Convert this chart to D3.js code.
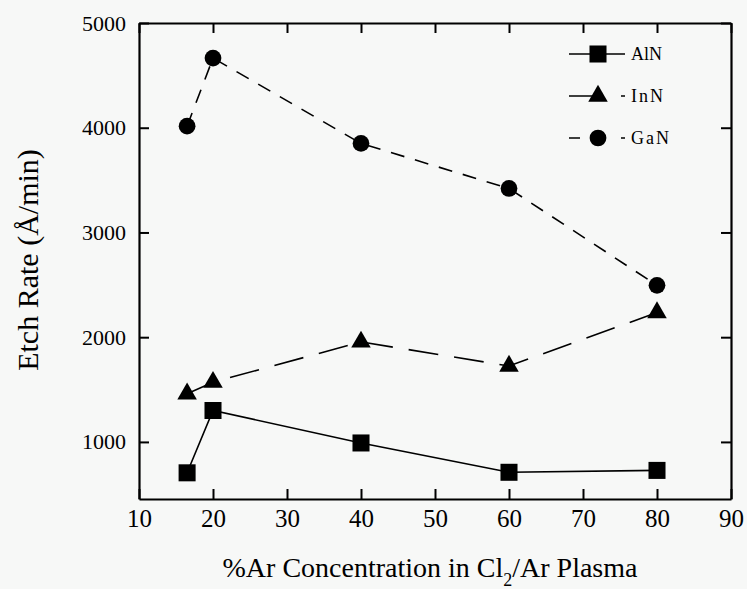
<!DOCTYPE html>
<html>
<head>
<meta charset="utf-8">
<script src="https://cdn.jsdelivr.net/npm/d3@7"></script>
<style>
  body { margin: 0; background: #f7f8f7; }
  svg { display: block; font-family: "Liberation Serif", "Times New Roman", serif; }
</style>
</head>
<body>
<div id="chart"></div>
<script>
// data
var arConc = [16.5, 20, 40, 60, 80];
var alnRate = [705, 1300, 990, 710, 728];
var innRate = [1460, 1570, 1955, 1725, 2235];
var ganRate = [4015, 4665, 3850, 3420, 2495];
var xTicks = [10, 20, 30, 40, 50, 60, 70, 80, 90];
var yTicks = [1000, 2000, 3000, 4000, 5000];

var svgWidth = 747, svgHeight = 589;
var margin = { top: 23, right: 16, bottom: 90, left: 139 };
var chartWidth = svgWidth - margin.left - margin.right;
var chartHeight = svgHeight - margin.top - margin.bottom;

var svg = d3.select("#chart").append("svg")
  .attr("width", svgWidth)
  .attr("height", svgHeight);

var chartGroup = svg.append("g")
  .attr("transform", `translate(${margin.left}, ${margin.top})`);

var xScale = d3.scaleLinear().domain([10, 90]).range([0, chartWidth]);
var yScale = d3.scaleLinear().domain([455, 5000]).range([chartHeight, 0]);

// axes, ticks pointing inward, mirrored on top/right
var tickLen = 10;
var bottomAxis = d3.axisBottom(xScale).tickValues(xTicks).tickFormat(d3.format("d"))
  .tickSizeInner(-tickLen).tickSizeOuter(0).tickPadding(10);
var leftAxis = d3.axisLeft(yScale).tickValues(yTicks).tickFormat(d3.format("d"))
  .tickSizeInner(-tickLen).tickSizeOuter(0).tickPadding(13);
var topAxis = d3.axisTop(xScale).tickValues(xTicks).tickSizeInner(-tickLen).tickSizeOuter(0).tickFormat("");
var rightAxis = d3.axisRight(yScale).tickValues(yTicks).tickSizeInner(-tickLen).tickSizeOuter(0).tickFormat("");

var xAxisG = chartGroup.append("g").attr("class", "axis").attr("transform", `translate(0, ${chartHeight})`).call(bottomAxis);
var yAxisG = chartGroup.append("g").attr("class", "axis").call(leftAxis);
chartGroup.append("g").attr("class", "axis").call(topAxis);
chartGroup.append("g").attr("class", "axis").attr("transform", `translate(${chartWidth}, 0)`).call(rightAxis);

chartGroup.selectAll(".axis path").attr("stroke", "#000").attr("stroke-width", 2.2);
chartGroup.selectAll(".axis line").attr("stroke", "#000").attr("stroke-width", 2);
chartGroup.selectAll(".axis text")
  .attr("fill", "#000")
  .style("font-family", "'Liberation Serif', serif");
xAxisG.selectAll("text").style("font-size", "25px");
yAxisG.selectAll("text").style("font-size", "22px");

// series
var series = [
  { name: "AlN", values: alnRate, dash: null, legendDash: null, symbol: d3.symbolSquare, size: 290 },
  { name: "InN", values: innRate, dash: "30,16", legendDash: "30,22,4,10", symbol: d3.symbolTriangle, size: 165 },
  { name: "GaN", values: ganRate, dash: "14,11", legendDash: "11,41,4,10", symbol: d3.symbolCircle, size: 220 }
];

var line = d3.line()
  .x(d => xScale(d[0]))
  .y(d => yScale(d[1]));

series.forEach(s => {
  var pts = arConc.map((x, i) => [x, s.values[i]]);
  chartGroup.append("path")
    .datum(pts)
    .attr("d", line)
    .attr("fill", "none")
    .attr("stroke", "#000")
    .attr("stroke-width", 1.6)
    .attr("stroke-dasharray", s.dash);

  chartGroup.selectAll(null)
    .data(pts)
    .enter()
    .append("path")
    .attr("d", d3.symbol().type(s.symbol).size(s.size))
    .attr("transform", d => `translate(${xScale(d[0])}, ${yScale(d[1])})`)
    .attr("fill", "#000");
});

// legend
var legend = svg.append("g").attr("transform", "translate(569, 54)");
series.forEach((s, i) => {
  var g = legend.append("g").attr("transform", `translate(0, ${i * 42})`);
  g.append("line")
    .attr("x1", 0).attr("x2", 56)
    .attr("y1", 0).attr("y2", 0)
    .attr("stroke", "#000")
    .attr("stroke-width", 1.6)
    .attr("stroke-dasharray", s.legendDash);
  g.append("path")
    .attr("d", d3.symbol().type(s.symbol).size(s.size))
    .attr("transform", "translate(29, 0)")
    .attr("fill", "#000");
  g.append("text")
    .attr("x", 62)
    .attr("y", 6)
    .style("font-size", "18px")
    .style("letter-spacing", i === 0 ? "0px" : "2px")
    .text(s.name);
});

// axis titles
svg.append("text")
  .attr("transform", "rotate(-90)")
  .attr("x", -260)
  .attr("y", 38)
  .attr("text-anchor", "middle")
  .style("font-size", "30px")
  .text("Etch Rate (Å/min)");

var xTitle = svg.append("text")
  .attr("x", 430)
  .attr("y", 577)
  .attr("text-anchor", "middle")
  .style("font-size", "28px");
xTitle.append("tspan").text("%Ar Concentration in Cl");
xTitle.append("tspan").attr("dy", 9).style("font-size", "18px").text("2");
xTitle.append("tspan").attr("dy", -9).text("/Ar Plasma");
</script>
</body>
</html>
